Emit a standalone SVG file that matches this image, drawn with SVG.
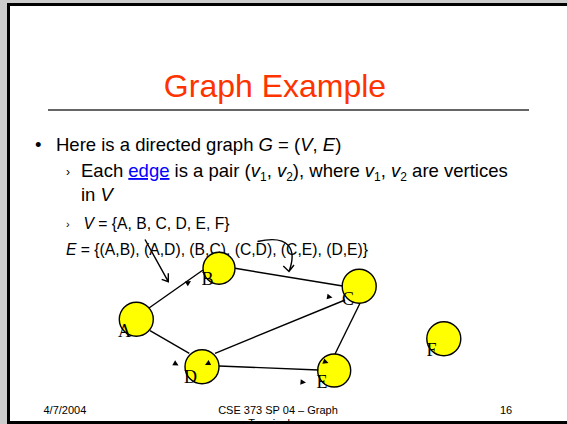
<svg xmlns="http://www.w3.org/2000/svg" xmlns:xlink="http://www.w3.org/1999/xlink" width="568" height="424" viewBox="0 0 568 424">
<style>
.sans{font-family:"Liberation Sans",Arial,sans-serif;fill:#000}
.serif{font-family:"Liberation Serif","Times New Roman",serif;fill:#000;font-size:18px}
.edge{stroke:#000;stroke-width:1.4;fill:none}
.node{fill:#ffff00;stroke:#000;stroke-width:1.4}
.it{font-style:italic}
.sub{font-size:12px}
</style>
<defs>
<path id="tri" d="M0,0 L-5.5,-2.8 L-5.5,2.8 Z" fill="#000"/>
</defs>
<rect x="0" y="0" width="568" height="424" fill="#cccccc"/>
<rect x="8.5" y="4.5" width="600" height="418" fill="#ffffff" stroke="#000" stroke-width="3"/>
<rect x="567" y="0" width="1" height="424" fill="#cccccc"/>

<g id="title">
<text class="sans" x="275" y="97" font-size="32" text-anchor="middle" style="fill:#ff3300">Graph Example</text>
<line x1="48" y1="110" x2="529" y2="110" stroke="#333" stroke-width="1.6"/>
</g>

<g id="body" class="sans">
<text x="35" y="151" font-size="18.5" class="sans">•</text>
<text x="56" y="151" font-size="18.5" class="sans">Here is a directed graph <tspan class="it">G</tspan> = (<tspan class="it">V</tspan>, <tspan class="it">E</tspan>)</text>
<text x="66" y="176" font-size="12" class="sans">›</text>
<text x="81" y="177" font-size="18.5" class="sans">Each <tspan fill="#0000ff" text-decoration="underline" style="fill:#0000ff">edge</tspan> is a pair (<tspan class="it">v</tspan><tspan class="sub" dy="4">1</tspan><tspan dy="-4">, </tspan><tspan class="it">v</tspan><tspan class="sub" dy="4">2</tspan><tspan dy="-4">), where </tspan><tspan class="it">v</tspan><tspan class="sub" dy="4">1</tspan><tspan dy="-4">, </tspan><tspan class="it">v</tspan><tspan class="sub" dy="4">2</tspan><tspan dy="-4"> are vertices</tspan></text>
<text x="81" y="201" font-size="18.5" class="sans">in <tspan class="it">V</tspan></text>
<text x="66" y="228" font-size="11" class="sans">›</text>
<text x="83.5" y="229" font-size="15.7" class="sans"><tspan class="it">V</tspan> = {A, B, C, D, E, F}</text>
<text x="66" y="254.5" font-size="15.7" class="sans"><tspan class="it">E</tspan> = {(A,B), (A,D), (B,C), (C,D), (C,E), (D,E)}</text>
</g>

<g id="pointers" class="edge">
<path d="M145,239.5 L168.3,281.7 M168.3,273.3 L168.3,281.7 L161.7,279.3"/>
<path d="M257.5,241.5 C290,234 297,250 289,271.5 M283.3,266 L289,271.5 L294,265"/>
</g>

<g id="node-A"><circle class="node" cx="136.3" cy="319.3" r="17"/></g>
<g id="node-B"><circle class="node" cx="219" cy="268.3" r="16"/></g>
<g id="node-C"><circle class="node" cx="359.2" cy="286.3" r="17"/></g>
<g id="node-D"><circle class="node" cx="202" cy="366.7" r="17"/></g>
<g id="node-E"><circle class="node" cx="334.2" cy="370.5" r="16.5"/></g>
<g id="node-F"><circle class="node" cx="443.8" cy="338.7" r="17"/></g>

<g id="connectors" class="edge">
<line x1="149" y1="308" x2="203" y2="270"/>
<line x1="150" y1="330.7" x2="189.3" y2="353.3"/>
<line x1="235" y1="268.3" x2="342.7" y2="286"/>
<line x1="215" y1="353.3" x2="345" y2="300"/>
<line x1="360" y1="303.3" x2="335" y2="354"/>
<line x1="219" y1="366" x2="318.3" y2="370"/>
</g>

<g id="labels">
<text class="serif" x="118" y="337">A</text>
<text class="serif" x="201.5" y="285">B</text>
<text class="serif" x="342" y="304.5">C</text>
<text class="serif" x="184" y="383">D</text>
<text class="serif" x="316.5" y="388">E</text>
<text class="serif" x="426.5" y="356">F</text>
</g>

<g id="arrowheads">
<use xlink:href="#tri" transform="translate(191,281) rotate(-32)"/>
<use xlink:href="#tri" transform="translate(178.5,365.5) rotate(30)"/>
<use xlink:href="#tri" transform="translate(332.5,297.5) rotate(10)"/>
<use xlink:href="#tri" transform="translate(205,365) rotate(153)"/>
<use xlink:href="#tri" transform="translate(328.5,363) rotate(20)"/>
<use xlink:href="#tri" transform="translate(306,382.5) rotate(5)"/>
</g>

<g id="footer" class="sans" font-size="11">
<text x="43.5" y="413.5" class="sans" font-size="11">4/7/2004</text>
<text x="278" y="413.5" class="sans" font-size="11" text-anchor="middle">CSE 373 SP 04 – Graph</text>
<text x="278" y="427" class="sans" font-size="11" text-anchor="middle">Terminology</text>
<text x="500" y="413.5" class="sans" font-size="11">16</text>
</g>
<rect x="7" y="421" width="560" height="3" fill="#000"/>
</svg>
